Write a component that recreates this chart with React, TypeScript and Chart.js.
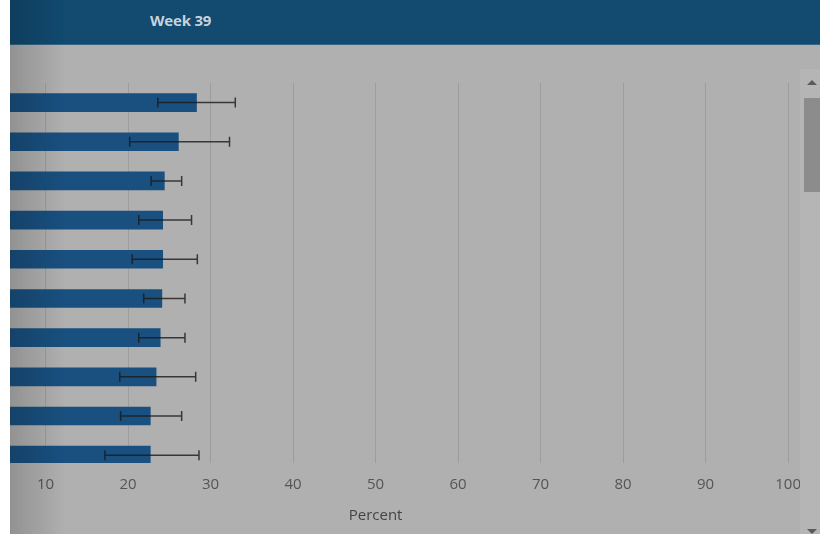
import React, { useEffect, useRef } from "react";
import { Chart, registerables } from "chart.js";

Chart.register(...registerables);

const headerTitle = "Week 39";
const axisTitle = "Percent";
const categories = ["Row 1", "Row 2", "Row 3", "Row 4", "Row 5", "Row 6", "Row 7", "Row 8", "Row 9", "Row 10"];
const values = [28.3, 26.1, 24.4, 24.2, 24.2, 24.1, 23.9, 23.4, 22.7, 22.7];
const errorLow = [23.6, 20.2, 22.8, 21.3, 20.5, 21.9, 21.3, 19.0, 19.1, 17.2];
const errorHigh = [33.0, 32.3, 26.5, 27.7, 28.4, 26.9, 26.9, 28.2, 26.5, 28.6];
const xMin = 0;
const xMax = 100;
const xStep = 10;

const errorBarPlugin = {
  id: "errorBars",
  afterDatasetsDraw(chart: any) {
    const { ctx, chartArea, scales } = chart;
    const xs = scales.x;
    const meta = chart.getDatasetMeta(0);
    ctx.save();
    ctx.beginPath();
    ctx.rect(chartArea.left, chartArea.top, chartArea.right - chartArea.left, chartArea.bottom - chartArea.top);
    ctx.clip();
    ctx.strokeStyle = "rgba(25,25,25,0.8)";
    ctx.lineWidth = 1.5;
    meta.data.forEach((bar: any, i: number) => {
      const y = bar.y;
      const x1 = xs.getPixelForValue(errorLow[i]);
      const x2 = xs.getPixelForValue(errorHigh[i]);
      ctx.beginPath();
      ctx.moveTo(x1, y);
      ctx.lineTo(x2, y);
      ctx.moveTo(x1, y - 5);
      ctx.lineTo(x1, y + 5);
      ctx.moveTo(x2, y - 5);
      ctx.lineTo(x2, y + 5);
      ctx.stroke();
    });
    ctx.restore();
  },
};

export default function App() {
  const ref = useRef<HTMLCanvasElement | null>(null);

  useEffect(() => {
    if (!ref.current) return;
    const chart = new Chart(ref.current, {
      type: "bar",
      data: {
        datasets: [
          {
            label: axisTitle,
            data: values.map((v, i) => ({ x: v, y: i })),
            backgroundColor: "#19507f",
            borderWidth: 0,
            barThickness: 18,
          },
        ],
      },
      options: {
        indexAxis: "y",
        animation: false,
        responsive: false,
        layout: { padding: { left: 20, right: 20, top: 39, bottom: 0 } },
        plugins: {
          legend: { display: false },
          tooltip: {
            callbacks: {
              title: (items: any) => categories[items[0].dataIndex],
            },
          },
        },
        scales: {
          y: {
            type: "linear",
            reverse: true,
            offset: false,
            min: -0.5,
            max: 9.2,
            display: false,
          },
          x: {
            type: "linear",
            min: xMin,
            max: xMax,
            ticks: {
              stepSize: xStep,
              padding: 13,
              color: "#555555",
              font: { family: "'Open Sans'", size: 15 },
            },
            grid: { color: "#9d9d9d", drawTicks: false, lineWidth: 1 },
            border: { display: false },
            title: {
              display: true,
              text: axisTitle,
              color: "#444444",
              font: { family: "'Open Sans'", size: 15 },
              padding: { top: 0, bottom: 9 },
            },
            afterFit(scale: any) {
              scale.height = 71;
            },
          },
        },
      },
      plugins: [errorBarPlugin],
    } as any);
    return () => chart.destroy();
  }, []);

  return (
    <div style={{ position: "absolute", left: 0, top: 0, width: 820, height: 534, background: "#ffffff", overflow: "hidden" }}>
      <div style={{ position: "absolute", left: 10, top: 0, width: 810, height: 534, background: "#b0b0b0", overflow: "hidden" }}>
        <canvas
          ref={ref}
          width={871}
          height={490}
          style={{ position: "absolute", left: -67, top: 44, width: 871, height: 490 }}
        />
        <div
          style={{
            position: "absolute",
            left: 0,
            top: 0,
            width: 810,
            height: 44,
            background: "#124a70",
            borderBottom: "1px solid rgba(255,255,255,0.15)",
          }}
        >
          <div
            style={{
              position: "absolute",
              left: 140,
              top: 10,
              fontFamily: "'Open Sans'",
              fontWeight: 700,
              fontSize: 15,
              lineHeight: "20px",
              color: "#c6d2dc",
              letterSpacing: -0.2,
            }}
          >
            {headerTitle}
          </div>
        </div>
        <div style={{ position: "absolute", left: 790, top: 69, width: 20, height: 465, background: "#b5b5b5" }} />
        <div style={{ position: "absolute", left: 794, top: 98, width: 16, height: 94, background: "#8c8c8c" }} />
        <div
          style={{
            position: "absolute",
            left: 797,
            top: 80,
            width: 0,
            height: 0,
            borderLeft: "5px solid transparent",
            borderRight: "5px solid transparent",
            borderBottom: "5px solid #5a5a5a",
          }}
        />
        <div
          style={{
            position: "absolute",
            left: 797,
            top: 529,
            width: 0,
            height: 0,
            borderLeft: "5px solid transparent",
            borderRight: "5px solid transparent",
            borderTop: "5px solid #5a5a5a",
          }}
        />
        <div
          style={{
            position: "absolute",
            left: 0,
            top: 0,
            width: 55,
            height: 534,
            background: "linear-gradient(to right, rgba(0,0,0,0.17), rgba(0,0,0,0))",
            pointerEvents: "none",
          }}
        />
      </div>
    </div>
  );
}
